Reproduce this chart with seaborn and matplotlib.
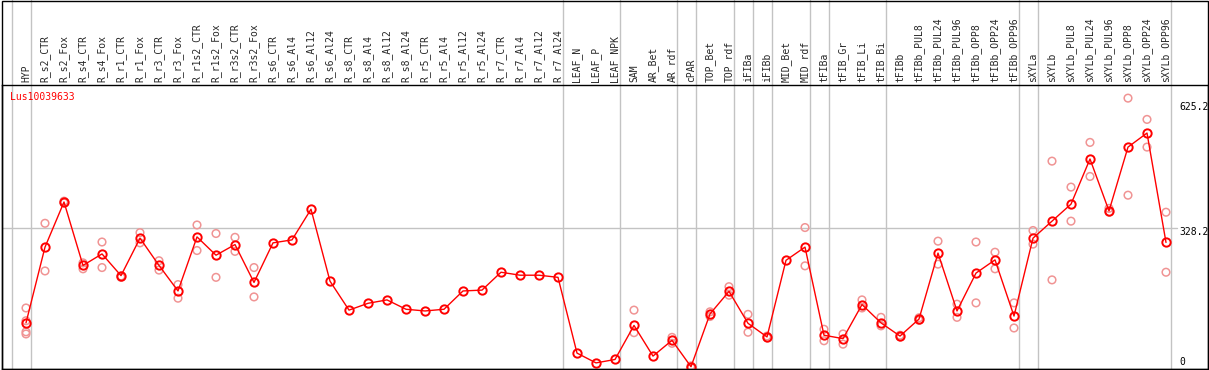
import numpy as np
import matplotlib
matplotlib.use('Agg')
import matplotlib.pyplot as plt
from matplotlib.patches import Rectangle
import matplotlib.transforms as mtransforms
import seaborn as sns

# %% dados
gene = 'Lus10039633'

samples = ['HYP', 'R_s2_CTR', 'R_s2_Fox', 'R_s4_CTR', 'R_s4_Fox', 'R_r1_CTR', 'R_r1_Fox',
           'R_r3_CTR', 'R_r3_Fox', 'R_r1s2_CTR', 'R_r1s2_Fox', 'R_r3s2_CTR', 'R_r3s2_Fox',
           'R_s6_CTR', 'R_s6_Al4', 'R_s6_Al12', 'R_s6_Al24', 'R_s8_CTR', 'R_s8_Al4',
           'R_s8_Al12', 'R_s8_Al24', 'R_r5_CTR', 'R_r5_Al4', 'R_r5_Al12', 'R_r5_Al24',
           'R_r7_CTR', 'R_r7_Al4', 'R_r7_Al12', 'R_r7_Al24', 'LEAF_N', 'LEAF_P', 'LEAF_NPK',
           'SAM', 'AR_Bet', 'AR_rdf', 'cPAR', 'TOP_Bet', 'TOP_rdf', 'iFIBa', 'iFIBb',
           'MID_Bet', 'MID_rdf', 'tFIBa', 'tFIB_Gr', 'tFIB_Li', 'tFIB_Bi', 'tFIBb',
           'tFIBb_PUL8', 'tFIBb_PUL24', 'tFIBb_PUL96', 'tFIBb_OPP8', 'tFIBb_OPP24',
           'tFIBb_OPP96', 'sXYLa', 'sXYLb', 'sXYLb_PUL8', 'sXYLb_PUL24', 'sXYLb_PUL96',
           'sXYLb_OPP8', 'sXYLb_OPP24', 'sXYLb_OPP96']

means = [106, 284, 390, 241, 268, 217, 305, 241, 181, 308, 265, 290, 201,
         294, 301, 373, 204, 136, 152, 160, 138, 134, 138, 181, 183,
         225, 218, 218, 213, 35, 12, 20,
         100, 28, 65, 3, 127, 180, 105, 73,
         253, 284, 77, 69, 149, 106, 75,
         115, 270, 134, 223, 254, 122,
         305, 345, 385, 491, 369, 519, 552, 295]

# replicas individuais (amostra, valor)
rep_samples = ['HYP', 'HYP', 'HYP', 'HYP', 'R_s2_CTR', 'R_s2_CTR', 'R_s2_Fox', 'R_s2_Fox',
               'R_s4_CTR', 'R_s4_CTR', 'R_s4_Fox', 'R_s4_Fox', 'R_r1_CTR', 'R_r1_CTR',
               'R_r1_Fox', 'R_r1_Fox', 'R_r3_CTR', 'R_r3_CTR', 'R_r3_Fox', 'R_r3_Fox',
               'R_r1s2_CTR', 'R_r1s2_CTR', 'R_r1s2_Fox', 'R_r1s2_Fox', 'R_r3s2_CTR',
               'R_r3s2_CTR', 'R_r3s2_Fox', 'R_r3s2_Fox', 'SAM', 'SAM', 'AR_rdf', 'AR_rdf',
               'cPAR', 'cPAR', 'TOP_Bet', 'TOP_Bet', 'TOP_rdf', 'TOP_rdf', 'iFIBa', 'iFIBa',
               'iFIBb', 'iFIBb', 'MID_rdf', 'MID_rdf', 'tFIBa', 'tFIBa', 'tFIB_Gr', 'tFIB_Gr',
               'tFIB_Li', 'tFIB_Li', 'tFIB_Bi', 'tFIB_Bi', 'tFIBb', 'tFIBb',
               'tFIBb_PUL8', 'tFIBb_PUL8', 'tFIBb_PUL24', 'tFIBb_PUL24', 'tFIBb_PUL96',
               'tFIBb_PUL96', 'tFIBb_OPP8', 'tFIBb_OPP8', 'tFIBb_OPP24', 'tFIBb_OPP24',
               'tFIBb_OPP96', 'tFIBb_OPP96', 'sXYLa', 'sXYLa', 'sXYLb', 'sXYLb',
               'sXYLb_PUL8', 'sXYLb_PUL8', 'sXYLb_PUL24', 'sXYLb_PUL24', 'sXYLb_PUL96',
               'sXYLb_PUL96', 'sXYLb_OPP8', 'sXYLb_OPP8', 'sXYLb_OPP24', 'sXYLb_OPP24',
               'sXYLb_OPP96', 'sXYLb_OPP96']
rep_values = [141, 111, 85, 80, 340, 228, 392, 388,
              247, 233, 296, 236, 216, 213,
              318, 294, 252, 230, 196, 164,
              336, 276, 316, 213, 307,
              274, 236, 167, 136, 83, 72, 58,
              5, 1, 132, 121, 191, 171, 126, 84,
              75, 71, 330, 240, 91, 64, 80, 56,
              160, 141, 119, 99, 77, 73,
              118, 112, 298, 244, 150,
              119, 296, 153, 272, 233,
              153, 94, 323, 291, 486, 207,
              425, 345, 530, 450, 375,
              366, 634, 406, 584, 519,
              366, 225]

# grupos: linha separadora depois destas amostras
group_ends = ['HYP', 'R_r7_Al24', 'LEAF_NPK', 'AR_rdf', 'cPAR', 'TOP_rdf', 'iFIBa', 'iFIBb',
              'MID_rdf', 'tFIBa', 'tFIB_Bi', 'tFIBb_OPP96', 'sXYLa', 'sXYLb_OPP96']

ref_values = [625.2, 328.2, 0]
ref_labels = ['625.2', '328.2', '0']

# %% estilo
sns.set_style('white')
plt.rcParams['font.family'] = ['DejaVu Sans Mono', 'DejaVu Sans']

W, H = 1209, 370
fig = plt.figure(figsize=(W / 100, H / 100), dpi=100)
ax_left, ax_right, ax_bot, ax_top = 1.5, 1208, 369, 85
ax = fig.add_axes([ax_left / W, (H - ax_bot) / H, (ax_right - ax_left) / W, (ax_bot - ax_top) / H])

n = len(samples)
x_idx = np.arange(n)
rep_x = [samples.index(s) for s in rep_samples]

sns.scatterplot(x=rep_x, y=rep_values, marker='o', s=30, facecolors='none',
                edgecolor='#f09494', linewidth=1.1, ax=ax, zorder=3)

sns.lineplot(x=x_idx, y=means, color='#ff0000', linewidth=1.0, marker='o',
             markersize=6.0, markerfacecolor='none', markeredgecolor='#ff0000',
             markeredgewidth=1.4, ax=ax, zorder=4)

# eixos
ax.set_xlim((ax_left - 26) / 19, (ax_right - 26) / 19)
px_per_unit = (368 - 228.3) / 328.2
ax.set_ylim((368 - ax_bot) / px_per_unit, (368 - ax_top) / px_per_unit)

ax.set_xticks(x_idx)
ax.set_xticklabels(samples, rotation=90, fontsize=7)
ax.xaxis.tick_top()
ax.tick_params(axis='x', length=0, pad=2)
ax.set_yticks([])
ax.set_xlabel('')
ax.set_ylabel('')
for sp in ax.spines.values():
    sp.set_color('black')
    sp.set_linewidth(1)

# linhas separadoras dos grupos (atravessam a area dos rotulos)
ext = (ax_bot - 0.5) / (ax_bot - ax_top)
ax.axvline(-1 + 4.5 / 19, ymin=0, ymax=ext, color='#c3c3c3', lw=1, clip_on=False, zorder=1)
for s in group_ends:
    ax.axvline(samples.index(s) + 4.5 / 19, ymin=0, ymax=ext, color='#c3c3c3', lw=1,
               clip_on=False, zorder=1)

ax.axhline(ref_values[1], xmin=0, xmax=(1177 - ax_left) / (ax_right - ax_left),
           color='#c3c3c3', lw=1, zorder=1)

# rotulos da escala a direita
trans = mtransforms.blended_transform_factory(ax.transAxes, ax.transData)
lab_x = (1179 - ax_left) / (ax_right - ax_left)
offsets = [-5.5, -4.0, 6.0]
for v, lab, off in zip(ref_values, ref_labels, offsets):
    ax.text(lab_x, v + off / px_per_unit, lab, transform=trans, fontsize=7,
            va='center', ha='left', color='black')

ax.text((10 - ax_left) / (ax_right - ax_left), (ax_bot - 97) / (ax_bot - ax_top), gene,
        transform=ax.transAxes, fontsize=7, color='#ff0000', va='center', ha='left')

# moldura da figura
fig.patches.append(Rectangle((1.5 / W, 1 / H), (ax_right - 1.5) / W, (H - 1.5) / H,
                             transform=fig.transFigure, fill=False, ec='black', lw=1))

plt.savefig('out.png', dpi=100)
